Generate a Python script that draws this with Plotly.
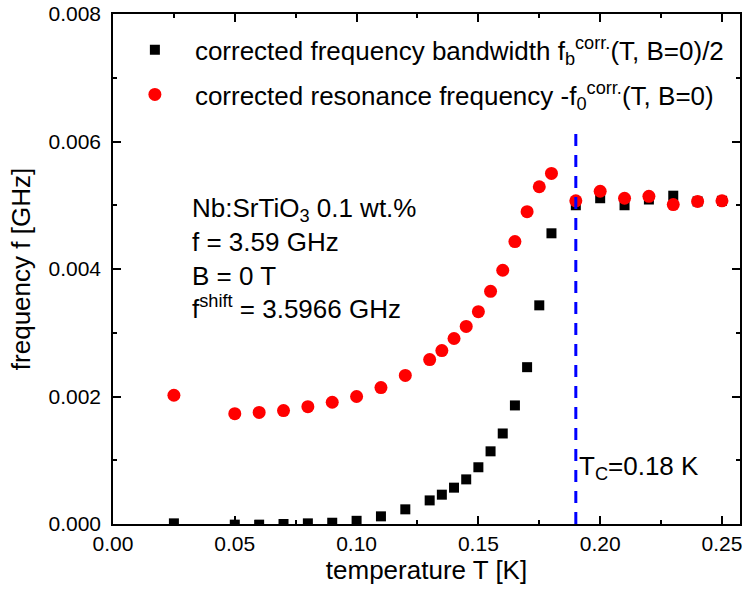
import plotly.graph_objects as go

# Temperature sweep [K] and corrected frequencies [GHz]
temp_bw = [0.025, 0.05, 0.06, 0.07, 0.08, 0.09, 0.10, 0.11, 0.12, 0.13, 0.135,
           0.14, 0.145, 0.15, 0.155, 0.16, 0.165, 0.17, 0.175, 0.18, 0.19,
           0.20, 0.21, 0.22, 0.23, 0.24, 0.25]
bandwidth_half = [0.00001, -0.00001, -0.00001, 0.0, 0.00001, 0.00002, 0.00005,
                  0.00012, 0.00023, 0.00037, 0.00046, 0.00057, 0.00070, 0.00089,
                  0.00114, 0.00142, 0.00186, 0.00246, 0.00343, 0.00456, 0.00500,
                  0.00511, 0.00500, 0.00509, 0.00515, 0.00506, 0.00507]

temp_res = [0.025, 0.05, 0.06, 0.07, 0.08, 0.09, 0.10, 0.11, 0.12, 0.13, 0.135,
            0.14, 0.145, 0.15, 0.155, 0.16, 0.165, 0.17, 0.175, 0.18, 0.19,
            0.20, 0.21, 0.22, 0.23, 0.24, 0.25]
resonance_shift = [0.00202, 0.00173, 0.00175, 0.00178, 0.00184, 0.00191, 0.00200,
                   0.00214, 0.00233, 0.00258, 0.00272, 0.00291, 0.00310, 0.00333,
                   0.00365, 0.00398, 0.00443, 0.00490, 0.00529, 0.00550, 0.00507,
                   0.00522, 0.00511, 0.00514, 0.00501, 0.00506, 0.00507]

# Transition marker
tc_line_x = [0.19, 0.19]
tc_line_y = [0.0, 0.0062]

FONT = "Liberation Sans, Arial, sans-serif"

fig = go.Figure()

fig.add_trace(go.Scatter(
    x=temp_bw, y=bandwidth_half, mode="markers",
    marker=dict(symbol="square", size=10, color="black"),
    name="corrected frequency bandwidth f<sub>b</sub><sup>corr.</sup>(T, B=0)/2",
    legendgroup="a",
))
fig.add_trace(go.Scatter(
    x=temp_res, y=resonance_shift, mode="markers",
    marker=dict(symbol="circle", size=13, color="#FF0000"),
    name="corrected resonance frequency -f<sub>0</sub><sup>corr.</sup>(T, B=0)",
    legendgroup="b",
))
fig.add_trace(go.Scatter(
    x=tc_line_x, y=tc_line_y, mode="lines",
    line=dict(color="#0000FF", width=3, dash="12px,9px"),
    showlegend=False, hoverinfo="skip",
))

# Sample / measurement parameters
info_text = "<br>".join([
    "Nb:SrTiO<sub>3</sub> 0.1 wt.%",
    "f = 3.59 GHz",
    "B = 0 T",
    "f<sup>shift</sup> = 3.5966 GHz",
])
fig.add_annotation(x=0.0315, y=0.00417, text=info_text, showarrow=False,
                   xanchor="left", yanchor="middle", align="left",
                   font=dict(family=FONT, size=26, color="black"))

fig.add_annotation(x=0.1905, y=0.00088, text="T<sub>C</sub>=0.18 K",
                   showarrow=False, xanchor="left", yanchor="middle",
                   font=dict(family=FONT, size=26, color="black"))

axis_common = dict(
    showline=True, linecolor="black", linewidth=1.5, mirror="ticks",
    ticks="inside", ticklen=8, tickwidth=1.5, tickcolor="black",
    showgrid=False, zeroline=False, ticklabeloverflow="allow",
    tickfont=dict(family=FONT, size=21, color="black"),
)

fig.update_xaxes(
    range=[0, 0.2574], tick0=0, dtick=0.05, tickformat=".2f",
    minor=dict(ticks="inside", ticklen=4, dtick=0.025, tickcolor="black", tickwidth=1.5),
    title=dict(text="temperature T [K]", font=dict(family=FONT, size=26, color="black"), standoff=4),
    **axis_common,
)
fig.update_yaxes(
    range=[0, 0.008], tick0=0, dtick=0.002, tickformat=".3f",
    minor=dict(ticks="inside", ticklen=4, dtick=0.001, tickcolor="black", tickwidth=1.5),
    title=dict(text="frequency f [GHz]", font=dict(family=FONT, size=26, color="black"), standoff=10),
    ticklabelstandoff=6,
    **axis_common,
)

fig.update_layout(
    width=742, height=596,
    margin=dict(l=113, r=0, t=14, b=72),
    plot_bgcolor="white", paper_bgcolor="white",
    showlegend=True,
    legend=dict(x=0.003, y=0.976, xanchor="left", yanchor="top",
                bgcolor="rgba(0,0,0,0)", tracegroupgap=8,
                traceorder="grouped", itemwidth=70,
                font=dict(family=FONT, size=26, color="black")),
)

fig.write_html("out.html")
